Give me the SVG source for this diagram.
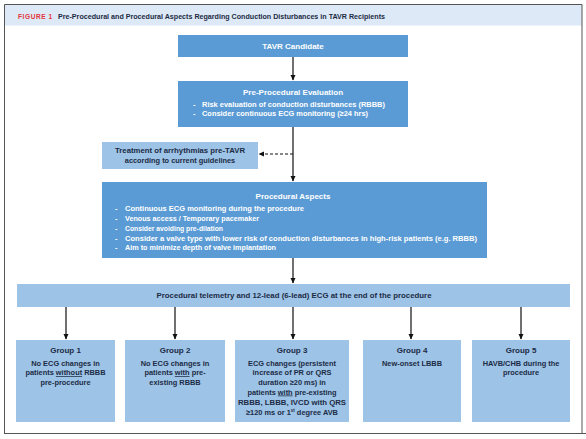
<svg xmlns="http://www.w3.org/2000/svg" width="586" height="439" viewBox="0 0 586 439">
<defs>
<marker id="ah" markerWidth="6" markerHeight="6" refX="5" refY="3" orient="auto" markerUnits="userSpaceOnUse">
<path d="M0,0.5 L5.5,3 L0,5.5 Z" fill="#111"/>
</marker>
<style>
.t{font-family:"Liberation Sans",Arial,sans-serif;font-weight:bold;font-size:7.4px}
.w{fill:#ffffff}
.d{fill:#1c2b45}
.mid{fill:#5b9bd5}
.lt{fill:#9dc3e6}
.c{text-anchor:middle}
.h{font-size:8px}
.ln{stroke:#111;stroke-width:1.2;fill:none}
</style>
</defs>
<rect x="0" y="0" width="586" height="439" fill="#ffffff"/>
<g id="frame">
<rect x="4.5" y="4.5" width="577.5" height="21" fill="#dde9f6"/>
<path d="M4.5,434 L4.5,4.5 L582,4.5 L582,434" fill="none" stroke="#555" stroke-width="1"/>
<line x1="4" y1="433.5" x2="586" y2="433.5" stroke="#555" stroke-width="1.2"/>
<text x="18" y="19" class="t" style="fill:#e2333b;font-size:6.5px;letter-spacing:0.6px">FIGURE 1</text>
<text x="58" y="19" class="t d" textLength="327" lengthAdjust="spacingAndGlyphs">Pre-Procedural and Procedural Aspects Regarding Conduction Disturbances in TAVR Recipients</text>
</g>
<g id="connectors">
<line x1="293" y1="57" x2="293" y2="80" class="ln" marker-end="url(#ah)"/>
<line x1="293" y1="127" x2="293" y2="181" class="ln" marker-end="url(#ah)"/>
<line x1="293" y1="154" x2="259" y2="154" class="ln" stroke-dasharray="3,2" marker-end="url(#ah)"/>
<line x1="293" y1="258" x2="293" y2="283" class="ln" marker-end="url(#ah)"/>
<line x1="66" y1="307" x2="66" y2="339" class="ln" marker-end="url(#ah)"/>
<line x1="175" y1="307" x2="175" y2="339" class="ln" marker-end="url(#ah)"/>
<line x1="293" y1="307" x2="293" y2="339" class="ln" marker-end="url(#ah)"/>
<line x1="411" y1="307" x2="411" y2="339" class="ln" marker-end="url(#ah)"/>
<line x1="521" y1="307" x2="521" y2="339" class="ln" marker-end="url(#ah)"/>
</g>
<g id="tavr">
<rect x="178" y="35" width="230" height="22" class="mid"/>
<text x="293" y="49" class="t w c h">TAVR Candidate</text>
</g>
<g id="pre">
<rect x="178" y="81" width="230" height="46" class="mid"/>
<text x="293" y="95" class="t w c h">Pre-Procedural Evaluation</text>
<text x="193" y="106.5" class="t w">-</text>
<text x="202" y="106.5" class="t w" textLength="183" lengthAdjust="spacingAndGlyphs">Risk evaluation of conduction disturbances (RBBB)</text>
<text x="193" y="116" class="t w">-</text>
<text x="202" y="116" class="t w" textLength="166" lengthAdjust="spacingAndGlyphs">Consider continuous ECG monitoring (≥24 hrs)</text>
</g>
<g id="treat">
<rect x="102" y="142" width="156" height="27" class="lt"/>
<text x="180" y="152.5" class="t d c" textLength="130" lengthAdjust="spacingAndGlyphs">Treatment of arrhythmias pre-TAVR</text>
<text x="180" y="162.5" class="t d c">according to current guidelines</text>
</g>
<g id="proc">
<rect x="102" y="182" width="385" height="76" class="mid"/>
<text x="293" y="198.5" class="t w c h">Procedural Aspects</text>
<text x="115" y="210.5" class="t w">-</text>
<text x="125" y="210.5" class="t w" textLength="179" lengthAdjust="spacingAndGlyphs">Continuous ECG monitoring during the procedure</text>
<text x="115" y="220.5" class="t w">-</text>
<text x="125" y="220.5" class="t w" textLength="134" lengthAdjust="spacingAndGlyphs">Venous access / Temporary pacemaker</text>
<text x="115" y="230.5" class="t w">-</text>
<text x="125" y="230.5" class="t w" textLength="98" lengthAdjust="spacingAndGlyphs">Consider avoiding pre-dilation</text>
<text x="115" y="240.5" class="t w">-</text>
<text x="125" y="240.5" class="t w" textLength="352" lengthAdjust="spacingAndGlyphs">Consider a valve type with lower risk of conduction disturbances in high-risk patients (e.g. RBBB)</text>
<text x="115" y="250" class="t w">-</text>
<text x="125" y="250" class="t w" textLength="151" lengthAdjust="spacingAndGlyphs">Aim to minimize depth of valve implantation</text>
</g>
<g id="telemetry">
<rect x="17" y="284" width="553" height="23" class="lt"/>
<text x="294" y="298" class="t d c" textLength="275" lengthAdjust="spacingAndGlyphs">Procedural telemetry and 12-lead (6-lead) ECG at the end of the procedure</text>
</g>
<g id="group1">
<rect x="16" y="340" width="99" height="82" class="lt"/>
<text x="65.5" y="352.5" class="t d c h">Group 1</text>
<text x="65.5" y="365.5" class="t d c">No ECG changes in</text>
<text x="65.5" y="375" class="t d c">patients <tspan text-decoration="underline">without</tspan> RBBB</text>
<text x="65.5" y="384.5" class="t d c">pre-procedure</text>
</g>
<g id="group2">
<rect x="125" y="340" width="100" height="82" class="lt"/>
<text x="175" y="352.5" class="t d c h">Group 2</text>
<text x="175" y="365.5" class="t d c">No ECG changes in</text>
<text x="175" y="375" class="t d c">patients <tspan text-decoration="underline">with</tspan> pre-</text>
<text x="175" y="384.5" class="t d c">existing RBBB</text>
</g>
<g id="group3">
<rect x="235" y="340" width="114" height="82" class="lt"/>
<text x="292" y="352.5" class="t d c h">Group 3</text>
<text x="292" y="365.5" class="t d c">ECG changes (persistent</text>
<text x="292" y="375" class="t d c">increase of PR or QRS</text>
<text x="292" y="384.5" class="t d c">duration ≥20 ms) in</text>
<text x="292" y="394.5" class="t d c">patients <tspan text-decoration="underline">with</tspan> pre-existing</text>
<text x="292" y="404.5" class="t d c" textLength="108" lengthAdjust="spacingAndGlyphs">RBBB, LBBB, IVCD with QRS</text>
<text x="292" y="414.5" class="t d c">≥120 ms or 1<tspan dy="-2.5" style="font-size:4.5px">st</tspan><tspan dy="2.5"> degree AVB</tspan></text>
</g>
<g id="group4">
<rect x="363" y="340" width="98" height="82" class="lt"/>
<text x="412" y="352.5" class="t d c h">Group 4</text>
<text x="412" y="365.5" class="t d c">New-onset LBBB</text>
</g>
<g id="group5">
<rect x="472" y="340" width="98" height="82" class="lt"/>
<text x="521" y="352.5" class="t d c h">Group 5</text>
<text x="521" y="365.5" class="t d c">HAVB/CHB during the</text>
<text x="521" y="375" class="t d c">procedure</text>
</g>
</svg>
